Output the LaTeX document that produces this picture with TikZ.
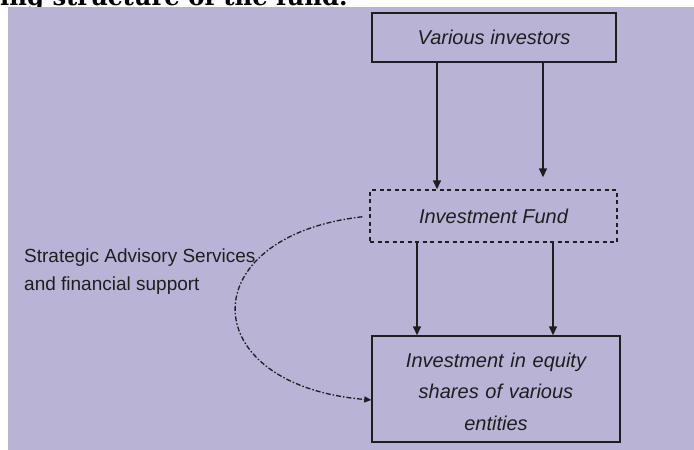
\documentclass[tikz,border=0pt]{standalone}
\usepackage{fontspec}
\setmainfont{Liberation Sans}
\newfontfamily\headfont{DejaVu Serif}
\usetikzlibrary{arrows.meta}
\definecolor{lavender}{RGB}{185,179,214}
\definecolor{ink}{RGB}{30,30,30}

\begin{document}
\begin{tikzpicture}[x=1pt, y=-1pt, >={Triangle[length=9pt,width=8pt]},
    box/.style={draw=ink, line width=1.4pt, inner sep=0pt, text=ink, align=center,
        font=\itshape\fontsize{20}{31.5}\selectfont},
    flow/.style={->, draw=ink, line width=1.4pt}]
    \useasboundingbox (0,0) rectangle (694,450);
    \clip (0,0) rectangle (694,450);
    % Heading, cut off at the top
    \node[anchor=base west, inner sep=0pt, font=\headfont\bfseries\fontsize{24.3}{24.3}\selectfont] (head) at (0,5) {ing structure of the fund.};
    \fill[lavender] (8,7) rectangle (694,450);
    % Boxes
    \node[box, minimum width=244pt, minimum height=49pt] (investors) at (494,37.5) {Various investors};
    \node[box, dash pattern=on 4pt off 3.5pt, minimum width=247pt, minimum height=52pt] (fund) at (493.5,216) {Investment Fund};
    \node[box, text width=220pt, minimum width=248pt, minimum height=106pt] (equity) at (496,389) {\rule{0pt}{20pt}Investment in equity\\shares of various\\entities};
    \node[anchor=west, align=left, inner sep=0pt, text=ink, font=\fontsize{19}{28}\selectfont] (advice) at (24,272) {Strategic Advisory Services\\and financial support};
    % Money flow
    \draw[flow] ([xshift=-57pt]investors.south) -- ([xshift=-57pt]investors.south |- fund.north);
    \draw[flow, shorten >=12pt] ([xshift=49pt]investors.south) -- ([xshift=49pt]investors.south |- fund.north);
    \draw[flow] ([xshift=-76.5pt]fund.south) -- ([xshift=-76.5pt]fund.south |- equity.north);
    \draw[flow] ([xshift=59.5pt]fund.south) -- ([xshift=59.5pt]fund.south |- equity.north);
    % Advisory loop
    \draw[->, >={Triangle[length=7pt,width=6pt]}, draw=ink, line width=1.3pt, dash pattern=on 5pt off 2pt on 1.5pt off 2pt, shorten <=7pt]
        (fund.west) .. controls +(-178,20) and +(-178,-15) .. ([yshift=-11pt]equity.west);
\end{tikzpicture}
\end{document}
